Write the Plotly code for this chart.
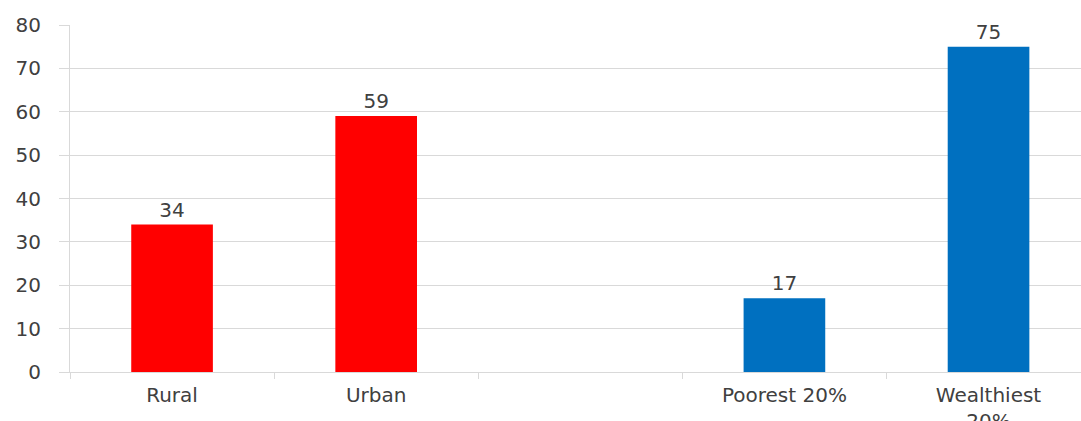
import plotly.graph_objects as go

categories = ["Rural", "Urban", " ", "Poorest 20%", "Wealthiest<br>20%"]
values = [34, 59, None, 17, 75]
labels = ["34", "59", "", "17", "75"]
colors = ["#ff0000", "#ff0000", "#ffffff", "#0070c0", "#0070c0"]
y_ticks = [0, 10, 20, 30, 40, 50, 60, 70, 80]

FONT = "DejaVu Sans"
TXT = "#404040"
GRID = "#d9d9d9"

fig = go.Figure(
    go.Bar(
        x=categories,
        y=values,
        text=labels,
        textposition="outside",
        textfont=dict(family=FONT, size=20, color=TXT),
        marker=dict(color=colors, line=dict(width=0)),
        width=0.4,
        cliponaxis=False,
        hoverinfo="skip",
    )
)

fig.update_layout(
    width=1081,
    height=421,
    margin=dict(l=70, r=0, t=25, b=49, autoexpand=False),
    paper_bgcolor="white",
    plot_bgcolor="white",
    showlegend=False,
    font=dict(family=FONT, size=20, color=TXT),
)

fig.update_xaxes(
    type="category",
    categoryorder="array",
    categoryarray=categories,
    range=[-0.5, 4.453],
    tickson="boundaries",
    ticks="outside",
    ticklen=6,
    tickcolor=GRID,
    tickwidth=1,
    showgrid=False,
    showline=True,
    linecolor=GRID,
    linewidth=1,
    automargin=False,
    ticklabelstandoff=5,
    tickfont=dict(family=FONT, size=20, color=TXT),
    fixedrange=True,
)

fig.update_yaxes(
    range=[0, 80],
    tickvals=y_ticks,
    ticktext=[str(v) for v in y_ticks],
    ticks="outside",
    ticklen=10,
    tickcolor=GRID,
    tickwidth=1,
    showgrid=True,
    gridcolor=GRID,
    gridwidth=1,
    showline=True,
    linecolor=GRID,
    linewidth=1,
    zeroline=False,
    automargin=False,
    ticklabelstandoff=14,
    tickfont=dict(family=FONT, size=20, color=TXT),
    fixedrange=True,
)

fig.write_html("out.html", config={"displayModeBar": False})
